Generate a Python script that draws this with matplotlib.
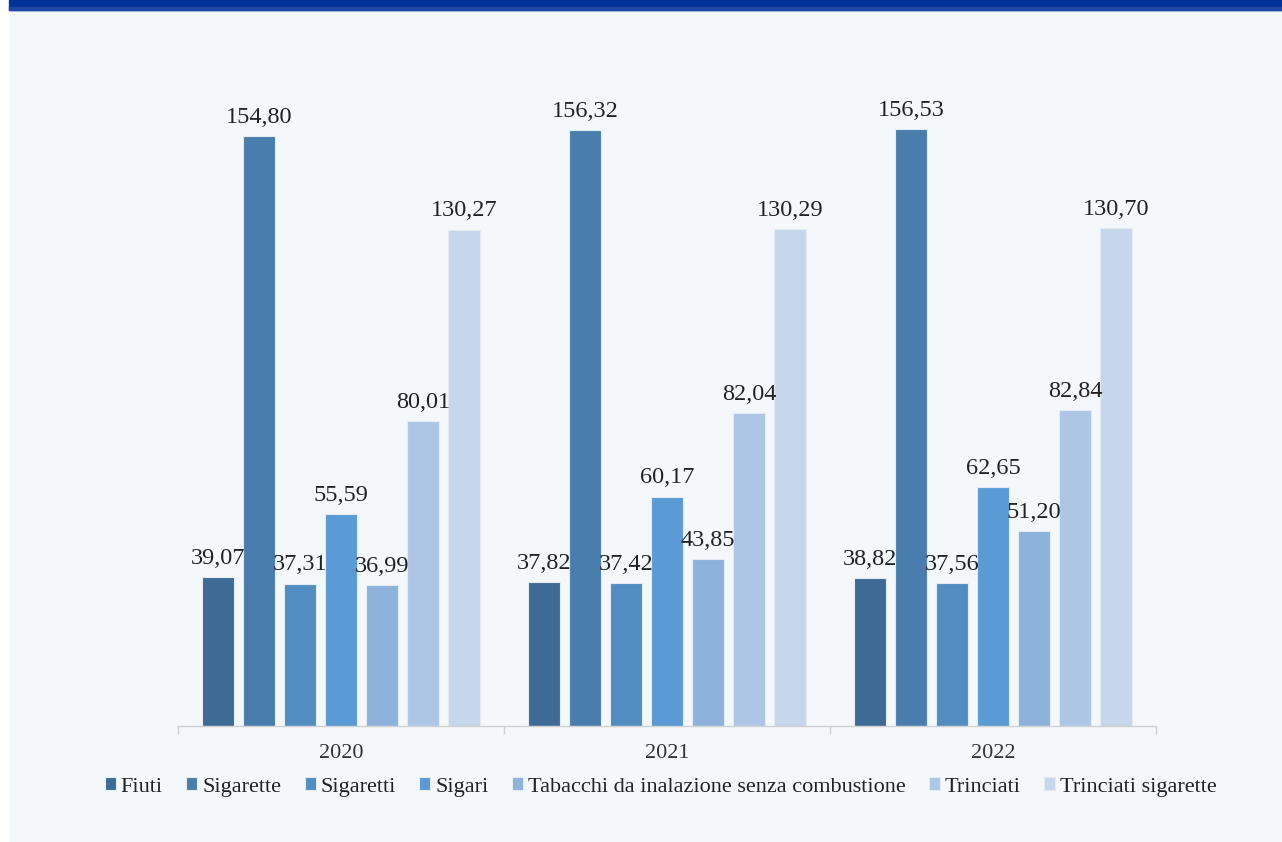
import matplotlib.pyplot as plt
from matplotlib.patches import Rectangle

# data
years = ["2020", "2021", "2022"]
categories = ["Fiuti", "Sigarette", "Sigaretti", "Sigari",
              "Tabacchi da inalazione senza combustione",
              "Trinciati", "Trinciati sigarette"]
fiuti = [39.07, 37.82, 38.82]
sigarette = [154.80, 156.32, 156.53]
sigaretti = [37.31, 37.42, 37.56]
sigari = [55.59, 60.17, 62.65]
tabacchi = [36.99, 43.85, 51.20]
trinciati = [80.01, 82.04, 82.84]
trinciati_sig = [130.27, 130.29, 130.70]
series = [fiuti, sigarette, sigaretti, sigari, tabacchi, trinciati, trinciati_sig]

colors = ["#3e6b96", "#497dad", "#528dc2", "#5b9bd5",
          "#8db2dc", "#adc6e6", "#c6d7ec"]
bg = "#f4f8fb"

plt.rcParams['font.family'] = ['Liberation Serif', 'DejaVu Serif']

fig = plt.figure(figsize=(12.82, 8.42), dpi=100, facecolor=bg)
W, H = 1282, 842
ax = fig.add_axes([178 / W, 1 - 726 / H, (1156 - 178) / W, (726 - 40) / H])
ax.set_facecolor(bg)

# decoration: white strip on the left, blue band on top
fig.patches.append(Rectangle((0, 0), 9 / W, 1, transform=fig.transFigure,
                             color="white", zorder=0))
fig.patches.append(Rectangle((9 / W, 1 - 10 / H), 1, 10 / H, transform=fig.transFigure,
                             color="#003399", zorder=0))
fig.patches.append(Rectangle((9 / W, 1 - 10 / H), 1, 3 / H, transform=fig.transFigure,
                             color="#1d48a3", zorder=0))

step = 0.1258
width = 0.101
x = range(len(years))
for i, (vals, name) in enumerate(zip(series, categories)):
    pos = [xi + (i - 3) * step for xi in x]
    bars = ax.bar(pos, vals, width=width, color=colors[i], label=name,
                  edgecolor="#e3ecf5", linewidth=0.8)
    for b, v in zip(bars, vals):
        ax.annotate(f"{v:.2f}".replace(".", ","),
                    (b.get_x() + b.get_width() / 2, v),
                    xytext=(0, 6), textcoords="offset points",
                    ha="center", va="bottom", fontsize=17.5, color="#222222")

ax.set_xlim(-0.5, 2.5)
ax.set_ylim(0, 180)
ax.set_xticks(list(x))
ax.set_xticklabels(years, fontsize=16, color="#333333")
ax.set_xticks([-0.5, 0.5, 1.5, 2.5], minor=True)
ax.tick_params(axis="x", which="major", length=0, pad=13)
ax.tick_params(axis="x", which="minor", length=6, color="#d0d0d0", width=1)
ax.set_yticks([])
for s in ["top", "right", "left"]:
    ax.spines[s].set_visible(False)
ax.spines["bottom"].set_color("#d0d0d0")
ax.spines["bottom"].set_linewidth(1)

fig.legend(loc="center", bbox_to_anchor=(661 / W, 1 - 787 / H), ncol=7,
           frameon=False, fontsize=16, handlelength=0.5, handleheight=0.5,
           handletextpad=0.22, columnspacing=1.05, labelcolor="#222222")

fig.savefig("out.png", dpi=100, facecolor=bg)
